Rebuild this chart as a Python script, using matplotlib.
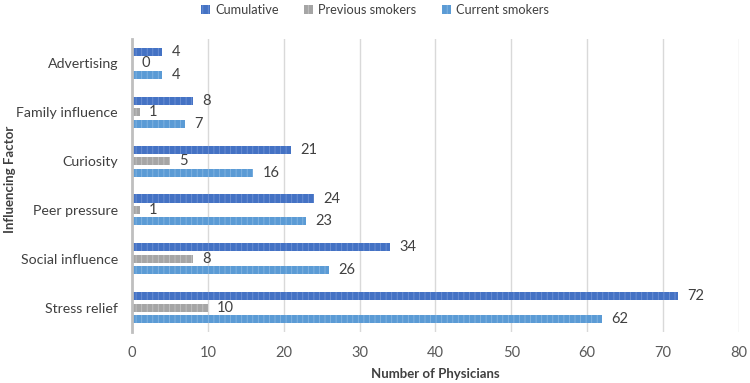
import matplotlib.pyplot as plt
import numpy as np

factors = ['Advertising', 'Family influence', 'Curiosity', 'Peer pressure',
           'Social influence', 'Stress relief']
cumulative = [4, 8, 21, 24, 34, 72]
previous = [0, 1, 5, 1, 8, 10]
current = [4, 7, 16, 23, 26, 62]

plt.rcParams['font.family'] = ['Lato', 'DejaVu Sans']
plt.rcParams['hatch.linewidth'] = 0.6

fig = plt.figure(figsize=(7.5, 3.83), dpi=100)
ax = fig.add_axes([0.176, 0.133, 0.809, 0.765])

y = np.arange(len(factors))
h = 0.165
off = 0.235
series = [
    (cumulative, 'Cumulative', '#4472C4', '#6f93d6', -off),
    (previous, 'Previous smokers', '#A5A5A5', '#c4c4c4', 0),
    (current, 'Current smokers', '#5B9BD5', '#86b6e3', off),
]
for vals, lab, col, hc, o in series:
    bars = ax.barh(y + o, vals, height=h, color=col, edgecolor=hc,
                   hatch='|||', linewidth=0, label=lab)
    for b, v in zip(bars, vals):
        ax.text(b.get_width() + 1.2, b.get_y() + b.get_height() / 2, str(v),
                va='center', ha='left', fontsize=10.5, color='#404040')

ax.set_yticks(y)
ax.set_yticklabels(factors, fontsize=10.2, color='#404040')
ax.set_ylim(5.5, -0.5)
ax.set_xlim(0, 80)
ax.set_xticks(range(0, 81, 10))
ax.tick_params(axis='x', labelsize=10.5, colors='#595959', length=0, pad=10)
ax.tick_params(axis='y', length=0, pad=10)
ax.grid(axis='x', color='#D9D9D9', linewidth=1)
ax.set_axisbelow(True)
for s in ['top', 'right', 'bottom']:
    ax.spines[s].set_visible(False)
ax.spines['left'].set_color('#BFBFBF')
ax.spines['left'].set_linewidth(2)

ax.set_xlabel('Number of Physicians', fontsize=9.5, fontweight='bold',
              color='#404040', labelpad=5.5)
ax.set_ylabel('Influencing Factor', fontsize=9.5, fontweight='bold',
              color='#404040')
ax.yaxis.set_label_coords(-0.192, 0.52)

fig.legend(*ax.get_legend_handles_labels(), loc='center',
           bbox_to_anchor=(0.5, 0.975), ncol=3, frameon=False,
           fontsize=9.2, handlelength=0.7, handleheight=0.7, columnspacing=2.0,
           handletextpad=0.4, labelcolor='#404040')

fig.savefig('out.png', dpi=100)
